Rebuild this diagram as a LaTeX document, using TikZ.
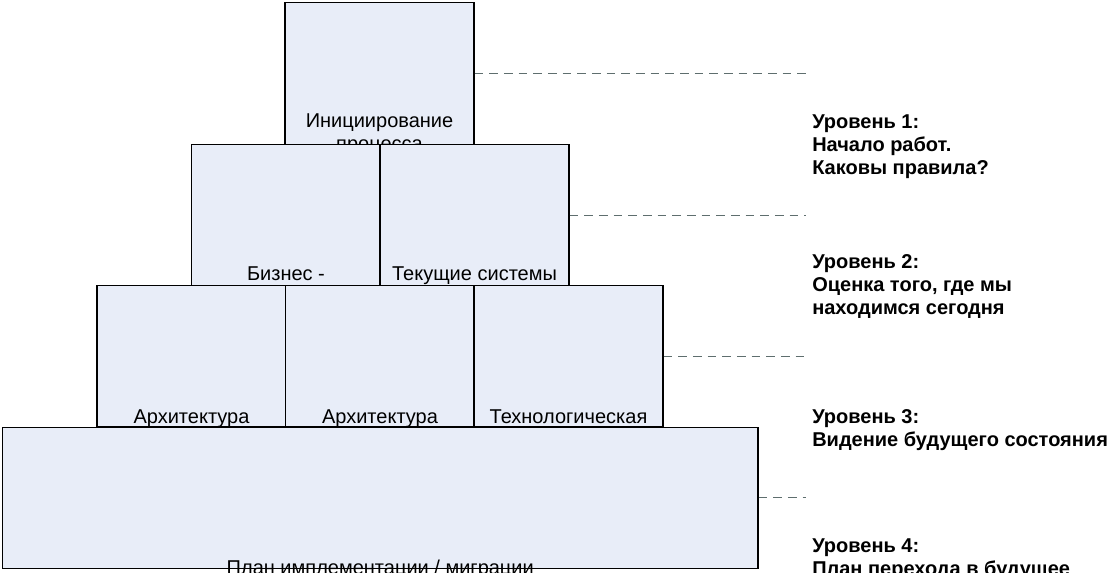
\documentclass[tikz,border=0pt]{standalone}
\usepackage{fontspec}
\setmainfont{Liberation Sans}
\usepackage{xcolor}
\usetikzlibrary{positioning, calc}
\definecolor{boxbg}{HTML}{E8EDF8}
\definecolor{boxstroke}{HTML}{000000}
\definecolor{guide}{HTML}{5E6E6E}

\begin{document}
\begin{tikzpicture}[
    x=0.75pt, y=-0.75pt,
    every node/.style={font=\fontsize{15}{17.25}\selectfont},
    box/.style={draw=boxstroke, fill=boxbg, line width=0.8pt, minimum width=141.75pt, minimum height=106pt, inner sep=0pt},
    boxtext/.style={anchor=base, align=center, inner sep=0pt},
    level/.style={anchor=base west, align=left, inner sep=0pt, font=\fontsize{15}{17.25}\selectfont\bfseries},
    guide/.style={draw=guide, line width=0.75pt, dash pattern=on 6.5pt off 4.5pt}
]
\useasboundingbox (0,0) rectangle (1115,572);
\clip (0,0) rectangle (1115,572);

% Level 1
\node[box] (init) at (379.5,73.5) {};
\node[boxtext] (initT) at (379.5,150) {Инициирование\\процесса};

% Level 2
\node[box] (biz) at (286,215) {};
\node[box] (cur) at (474.5,215) {};
\node[boxtext] (bizT) at (286,280) {Бизнес -};
\node[boxtext] (curT) at (474.5,280) {Текущие системы};

% Level 3
\node[box] (arch1) at (191.5,356.25) {};
\node[box] (arch2) at (380,356.25) {};
\node[box] (tech) at (568.5,356.25) {};
\node[boxtext] (arch1T) at (191.5,423) {Архитектура};
\node[boxtext] (arch2T) at (380,423) {Архитектура};
\node[boxtext] (techT) at (568.5,423) {Технологическая};

% Level 4
\node[box, minimum width=566.6pt] (plan) at (380.25,497.75) {};
\node[boxtext] (planT) at (380.25,574.5) {План имплементации / миграции};

% Level captions
\node[level] (lvl1) at (812,174) {Уровень 1:\\Начало работ.\\Каковы правила?};
\node[level] (lvl2) at (812,314) {Уровень 2:\\Оценка того, где мы\\находимся сегодня};
\node[level] (lvl3) at (812,446) {Уровень 3:\\Видение будущего состояния};
\node[level] (lvl4) at (812,575) {Уровень 4:\\План перехода в будущее};

% Guide lines
\coordinate (g1) at (806,73.5);
\coordinate (g2) at (806,215);
\coordinate (g3) at (806,356.25);
\coordinate (g4) at (806,497.75);
\draw[guide] (init.east) -- (g1);
\draw[guide] (cur.east) -- (g2);
\draw[guide] (tech.east) -- (g3);
\draw[guide] (plan.east) -- (g4);

\end{tikzpicture}
\end{document}
